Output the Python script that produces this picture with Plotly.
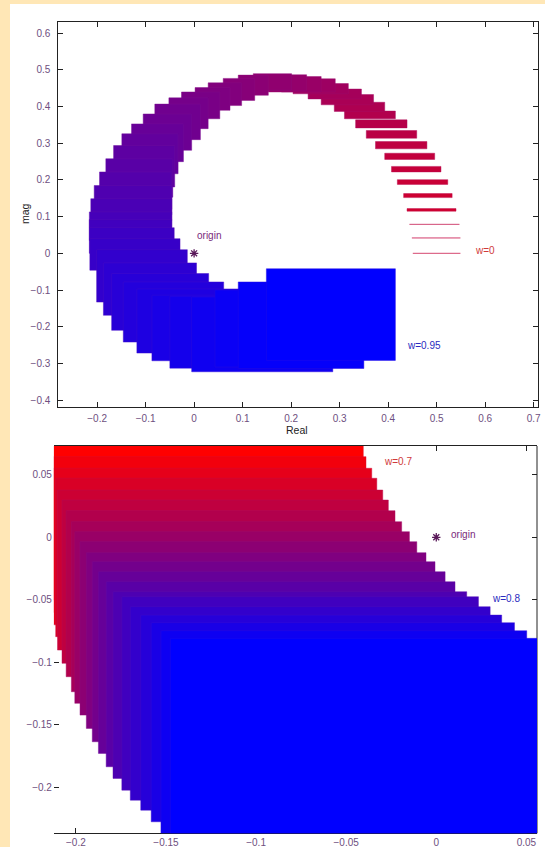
import plotly.graph_objects as go

# ---------------- data: top panel (rectangles, in order of increasing w) ----------------
top_re_lo = [0.451, 0.449, 0.444, 0.439, 0.432, 0.419, 0.407, 0.393, 0.374, 0.355,
             0.333, 0.310, 0.289, 0.262, 0.235, 0.204, 0.180, 0.153, 0.140, 0.122,
             0.091, 0.060, 0.029, 0.002, -0.026, -0.052, -0.081, -0.105, -0.129, -0.149,
             -0.166, -0.182, -0.195, -0.206, -0.213, -0.216, -0.216, -0.216, -0.215, -0.201,
             -0.187, -0.170, -0.146, -0.118, -0.087, -0.050, -0.005, 0.043, 0.091, 0.149]
top_re_hi = [0.549, 0.549, 0.547, 0.540, 0.532, 0.523, 0.509, 0.496, 0.480, 0.459,
             0.439, 0.415, 0.393, 0.370, 0.345, 0.318, 0.291, 0.262, 0.232, 0.201,
             0.153, 0.125, 0.098, 0.074, 0.053, 0.029, 0.013, -0.005, -0.022, -0.033,
             -0.040, -0.044, -0.046, -0.046, -0.046, -0.046, -0.046, -0.041, -0.029, -0.014,
             0.005, 0.030, 0.061, 0.120, 0.160, 0.220, 0.286, 0.320, 0.350, 0.415]
top_im_lo = [0.000, 0.042, 0.079, 0.115, 0.152, 0.188, 0.222, 0.256, 0.285, 0.314,
             0.342, 0.367, 0.387, 0.405, 0.421, 0.435, 0.440, 0.440, 0.443, 0.445,
             0.431, 0.417, 0.403, 0.390, 0.367, 0.340, 0.310, 0.281, 0.250, 0.217,
             0.181, 0.153, 0.120, 0.105, 0.090, 0.070, 0.035, 0.000, -0.046, -0.133,
             -0.169, -0.210, -0.242, -0.272, -0.293, -0.313, -0.323, -0.310, -0.314, -0.292]
top_im_hi = [0.000, 0.043, 0.081, 0.122, 0.163, 0.201, 0.237, 0.273, 0.305, 0.335,
             0.364, 0.388, 0.412, 0.433, 0.448, 0.463, 0.476, 0.482, 0.487, 0.490,
             0.486, 0.477, 0.465, 0.452, 0.440, 0.424, 0.407, 0.380, 0.353, 0.326,
             0.294, 0.258, 0.222, 0.185, 0.149, 0.113, 0.092, 0.070, 0.040, 0.010,
             -0.026, -0.055, -0.078, -0.097, -0.114, -0.117, -0.119, -0.100, -0.078, -0.042]

# ---------------- data: bottom panel (zoom, w = 0.7 ... 0.8) ----------------
bot_re_lo = [-0.230, -0.225, -0.220, -0.2112, -0.2102, -0.2077, -0.2054, -0.2025, -0.2006, -0.1977,
             -0.1942, -0.1909, -0.1875, -0.1832, -0.1794, -0.1745, -0.1698, -0.1640, -0.1582, -0.1528,
             -0.1476]
bot_re_hi = [-0.0405, -0.0390, -0.0358, -0.0330, -0.0297, -0.0266, -0.0229, -0.0192, -0.0149, -0.0108,
             -0.0057, -0.0007, 0.0049, 0.0104, 0.0169, 0.0234, 0.0299, 0.0363, 0.0434, 0.0502,
             0.0700]
bot_im_lo = [-0.050, -0.060, -0.070, -0.0795, -0.0902, -0.1008, -0.1115, -0.1235, -0.1328, -0.1422,
             -0.1528, -0.1635, -0.1728, -0.1835, -0.1928, -0.2022, -0.2102, -0.2182, -0.2275, -0.2368,
             -0.2500]
bot_im_hi = [0.090, 0.0645, 0.0552, 0.0472, 0.0378, 0.0298, 0.0213, 0.0125, 0.0045, -0.0035,
             -0.0123, -0.0195, -0.0275, -0.0355, -0.0435, -0.0475, -0.0555, -0.0622, -0.0683, -0.0747,
             -0.0808]

top_xticks = [-0.2, -0.1, 0, 0.1, 0.2, 0.3, 0.4, 0.5, 0.6, 0.7]
top_yticks = [-0.4, -0.3, -0.2, -0.1, 0, 0.1, 0.2, 0.3, 0.4, 0.5, 0.6]
bot_xticks = [-0.2, -0.15, -0.1, -0.05, 0, 0.05]
bot_yticks = [-0.2, -0.15, -0.1, -0.05, 0, 0.05]

top_labels = [("origin", 0.001, 0.050, "#7a2a7a"), ("w=0", 0.575, 0.008, "#d03a3a"),
              ("w=0.95", 0.434, -0.250, "#2a2ac0")]
bot_labels = [("w=0.7", -0.030, 0.0605, "#d03a3a"), ("origin", 0.0068, 0.002, "#7a2a7a"),
              ("w=0.8", 0.030, -0.0488, "#2a2ac0")]

# ---------------- figure ----------------
W, H = 545, 847
fig = go.Figure()


def face(t):
    return (255 * (1 - t), 0.0, 255 * t)


def add_rects(xlo, xhi, ylo, yhi, t0, gamma, xa, ya):
    n = len(xlo)
    for i in range(n):
        t = t0 + (1 - t0) * (i / (n - 1)) ** gamma
        r, g, b = face(t)
        er, eg, eb = 0.75 * r + 0.25 * 150, 0.75 * g + 0.25 * 40, 0.75 * b + 0.25 * 150
        fig.add_trace(go.Scatter(
            x=[xlo[i], xhi[i], xhi[i], xlo[i], xlo[i]],
            y=[ylo[i], ylo[i], yhi[i], yhi[i], ylo[i]],
            mode="lines", fill="toself",
            fillcolor=f"rgb({r:.0f},{g:.0f},{b:.0f})",
            line=dict(color=f"rgba({er:.0f},{eg:.0f},{eb:.0f},0.45)", width=1),
            hoverinfo="skip", showlegend=False, xaxis=xa, yaxis=ya))


add_rects(top_re_lo, top_re_hi, top_im_lo, top_im_hi, 0.15, 1.15, "x", "y")
add_rects(bot_re_lo, bot_re_hi, bot_im_lo, bot_im_hi, 0.0, 1.0, "x2", "y2")

for xa, ya in (("x", "y"), ("x2", "y2")):
    fig.add_trace(go.Scatter(x=[0], y=[0], mode="markers",
                             marker=dict(symbol="asterisk-open", size=7, color="#5a1a5a",
                                         line=dict(color="#5a1a5a", width=1.3)),
                             hoverinfo="skip", showlegend=False, xaxis=xa, yaxis=ya))

FONT = "Liberation Sans, Arial, sans-serif"
ann = []
for txt, x, y, c in top_labels:
    ann.append(dict(text=txt, x=x, y=y, xref="x", yref="y", xanchor="left", yanchor="middle",
                    showarrow=False, font=dict(family=FONT, size=10, color=c)))
for txt, x, y, c in bot_labels:
    ann.append(dict(text=txt, x=x, y=y, xref="x2", yref="y2", xanchor="left", yanchor="middle",
                    showarrow=False, font=dict(family=FONT, size=10, color=c)))
ann.append(dict(text="Real", x=297 / W, y=1 - 430 / H, xref="paper", yref="paper",
                xanchor="center", yanchor="middle", showarrow=False,
                font=dict(family=FONT, size=10.5, color="#222")))
ann.append(dict(text="mag", x=25 / W, y=1 - 214 / H, xref="paper", yref="paper",
                xanchor="center", yanchor="middle", showarrow=False, textangle=-90,
                font=dict(family=FONT, size=10.5, color="#222")))

axcommon = dict(showgrid=False, zeroline=False, ticks="inside", ticklen=5, tickwidth=1,
                tickcolor="#222", linecolor="#222", linewidth=1, layer="below traces",
                automargin=False,
                tickfont=dict(family=FONT, size=10, color="#6e4f80"))

fig.update_layout(
    width=W, height=H, autosize=False,
    margin=dict(l=0, r=0, t=0, b=0),
    paper_bgcolor="#FFE7B6", plot_bgcolor="white",
    showlegend=False, hovermode=False,
    annotations=ann,
    shapes=[
        dict(type="rect", xref="paper", yref="paper", x0=10 / W, x1=1, y0=0, y1=1 - 4 / H,
             fillcolor="white", line=dict(width=0), layer="below"),
        dict(type="line", xref="x2 domain", yref="y2 domain", x0=1, x1=1, y0=0, y1=1,
             line=dict(color="#222", width=1), layer="below"),
    ],
    xaxis=dict(domain=[58.3 / W, 537.5 / W], range=[-0.28, 0.708], tickvals=top_xticks,
               showline=True, mirror="ticks", anchor="y", ticklabelstandoff=2, **axcommon),
    yaxis=dict(domain=[1 - 407 / H, 1 - 22.3 / H], range=[-0.419, 0.63], tickvals=top_yticks,
               showline=True, mirror="ticks", anchor="x", ticklabelstandoff=5, **axcommon),
    xaxis2=dict(domain=[53.9 / W, 537 / W], range=[-0.2122, 0.0559], tickvals=bot_xticks,
                showline=True, mirror="ticks", anchor="y2", ticklabelstandoff=0, **axcommon),
    yaxis2=dict(domain=[1 - 833.3 / H, 1 - 446 / H], range=[-0.2367, 0.073], tickvals=bot_yticks,
                showline=False, mirror="ticks", anchor="x2", ticklabelstandoff=1, **axcommon),
)

fig.write_html("out.html",
               config={"displayModeBar": False, "staticPlot": True},
               post_script="document.body.style.margin='0px';"
                           "document.body.style.overflow='hidden';")
